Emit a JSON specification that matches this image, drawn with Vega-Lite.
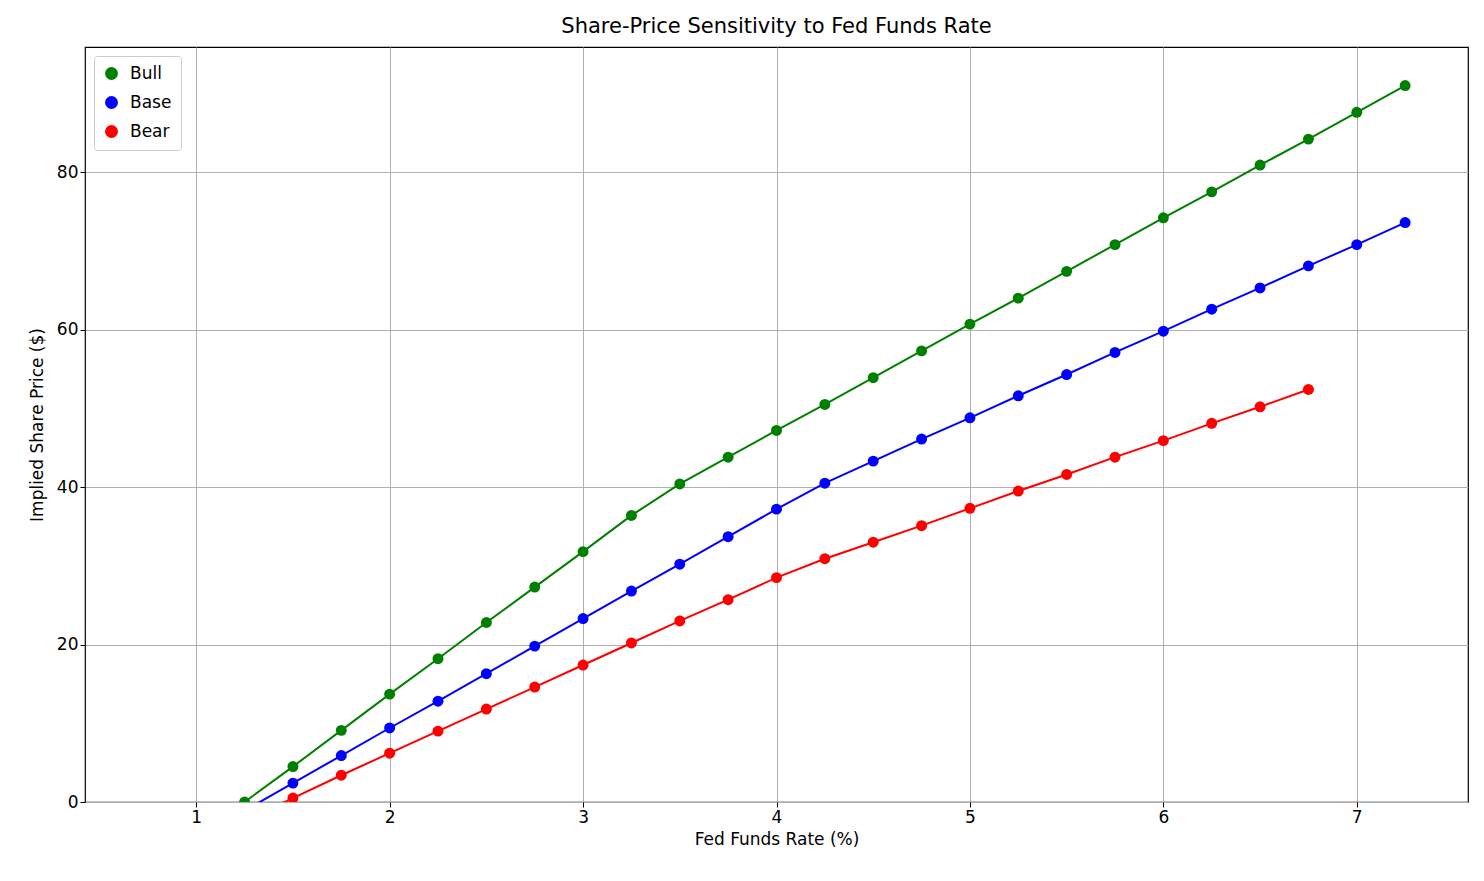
{
  "$schema": "https://vega.github.io/schema/vega-lite/v6.json",
  "autosize": "none",
  "width": 1383,
  "height": 755,
  "padding": {"left": 85, "top": 47, "right": 16, "bottom": 79},
  "background": "white",
  "title": {"text": "Share-Price Sensitivity to Fed Funds Rate", "fontSize": 21, "fontWeight": "normal", "font": "DejaVu Sans", "offset": 10},
  "config": {
    "font": "DejaVu Sans",
    "view": {"stroke": "black", "strokeWidth": 1.2},
    "axis": {"gridColor": "#b0b0b0", "gridOpacity": 1, "domain": false, "tickColor": "black", "tickSize": 5, "labelColor": "black", "labelFontSize": 17, "titleFontSize": 17, "titleFontWeight": "normal", "titleColor": "black", "labelFont": "DejaVu Sans", "titleFont": "DejaVu Sans"}
  },
  "data": {"values": [
    {"rate": 0.75, "s": "Bull", "p": -9}, {"rate": 1.0, "s": "Bull", "p": -4.5}, {"rate": 1.25, "s": "Bull", "p": 0},
    {"rate": 1.5, "s": "Bull", "p": 4.5}, {"rate": 1.75, "s": "Bull", "p": 9.1}, {"rate": 2, "s": "Bull", "p": 13.7},
    {"rate": 2.25, "s": "Bull", "p": 18.2}, {"rate": 2.5, "s": "Bull", "p": 22.8}, {"rate": 2.75, "s": "Bull", "p": 27.3},
    {"rate": 3, "s": "Bull", "p": 31.8}, {"rate": 3.25, "s": "Bull", "p": 36.4}, {"rate": 3.5, "s": "Bull", "p": 40.4},
    {"rate": 3.75, "s": "Bull", "p": 43.8}, {"rate": 4, "s": "Bull", "p": 47.2}, {"rate": 4.25, "s": "Bull", "p": 50.5},
    {"rate": 4.5, "s": "Bull", "p": 53.9}, {"rate": 4.75, "s": "Bull", "p": 57.3}, {"rate": 5, "s": "Bull", "p": 60.7},
    {"rate": 5.25, "s": "Bull", "p": 64.0}, {"rate": 5.5, "s": "Bull", "p": 67.4}, {"rate": 5.75, "s": "Bull", "p": 70.8},
    {"rate": 6, "s": "Bull", "p": 74.2}, {"rate": 6.25, "s": "Bull", "p": 77.5}, {"rate": 6.5, "s": "Bull", "p": 80.9},
    {"rate": 6.75, "s": "Bull", "p": 84.2}, {"rate": 7, "s": "Bull", "p": 87.6}, {"rate": 7.25, "s": "Bull", "p": 91.0},
    {"rate": 0.75, "s": "Base", "p": -8}, {"rate": 1.0, "s": "Base", "p": -4.6}, {"rate": 1.25, "s": "Base", "p": -1.1},
    {"rate": 1.5, "s": "Base", "p": 2.4}, {"rate": 1.75, "s": "Base", "p": 5.9}, {"rate": 2, "s": "Base", "p": 9.4},
    {"rate": 2.25, "s": "Base", "p": 12.8}, {"rate": 2.5, "s": "Base", "p": 16.3}, {"rate": 2.75, "s": "Base", "p": 19.8},
    {"rate": 3, "s": "Base", "p": 23.3}, {"rate": 3.25, "s": "Base", "p": 26.8}, {"rate": 3.5, "s": "Base", "p": 30.2},
    {"rate": 3.75, "s": "Base", "p": 33.7}, {"rate": 4, "s": "Base", "p": 37.2}, {"rate": 4.25, "s": "Base", "p": 40.5},
    {"rate": 4.5, "s": "Base", "p": 43.3}, {"rate": 4.75, "s": "Base", "p": 46.1}, {"rate": 5, "s": "Base", "p": 48.8},
    {"rate": 5.25, "s": "Base", "p": 51.6}, {"rate": 5.5, "s": "Base", "p": 54.3}, {"rate": 5.75, "s": "Base", "p": 57.1},
    {"rate": 6, "s": "Base", "p": 59.8}, {"rate": 6.25, "s": "Base", "p": 62.6}, {"rate": 6.5, "s": "Base", "p": 65.3},
    {"rate": 6.75, "s": "Base", "p": 68.1}, {"rate": 7, "s": "Base", "p": 70.8}, {"rate": 7.25, "s": "Base", "p": 73.6},
    {"rate": 0.75, "s": "Bear", "p": -8.5}, {"rate": 1.0, "s": "Bear", "p": -5.3}, {"rate": 1.25, "s": "Bear", "p": -2.4},
    {"rate": 1.5, "s": "Bear", "p": 0.5}, {"rate": 1.75, "s": "Bear", "p": 3.4}, {"rate": 2, "s": "Bear", "p": 6.2},
    {"rate": 2.25, "s": "Bear", "p": 9.0}, {"rate": 2.5, "s": "Bear", "p": 11.8}, {"rate": 2.75, "s": "Bear", "p": 14.6},
    {"rate": 3, "s": "Bear", "p": 17.4}, {"rate": 3.25, "s": "Bear", "p": 20.2}, {"rate": 3.5, "s": "Bear", "p": 23.0},
    {"rate": 3.75, "s": "Bear", "p": 25.7}, {"rate": 4, "s": "Bear", "p": 28.5}, {"rate": 4.25, "s": "Bear", "p": 30.9},
    {"rate": 4.5, "s": "Bear", "p": 33.0}, {"rate": 4.75, "s": "Bear", "p": 35.1}, {"rate": 5, "s": "Bear", "p": 37.3},
    {"rate": 5.25, "s": "Bear", "p": 39.5}, {"rate": 5.5, "s": "Bear", "p": 41.6}, {"rate": 5.75, "s": "Bear", "p": 43.8},
    {"rate": 6, "s": "Bear", "p": 45.9}, {"rate": 6.25, "s": "Bear", "p": 48.1}, {"rate": 6.5, "s": "Bear", "p": 50.2},
    {"rate": 6.75, "s": "Bear", "p": 52.4}
  ]},
  "encoding": {
    "x": {"field": "rate", "type": "quantitative", "title": "Fed Funds Rate (%)", "scale": {"domain": [0.425, 7.575], "nice": false, "zero": false}, "axis": {"values": [1, 2, 3, 4, 5, 6, 7], "titlePadding": 6}},
    "y": {"field": "p", "type": "quantitative", "title": "Implied Share Price ($)", "scale": {"domain": [0, 95.9], "nice": false}, "axis": {"values": [0, 20, 40, 60, 80], "titlePadding": 10}},
    "color": {"field": "s", "type": "nominal", "sort": ["Bull", "Base", "Bear"], "scale": {"domain": ["Bull", "Base", "Bear"], "range": ["green", "blue", "red"]},
      "legend": {"title": null, "orient": "top-left", "offset": 9, "labelFontSize": 17, "symbolType": "circle", "symbolSize": 130, "symbolOpacity": 1, "strokeColor": "#cccccc", "fillColor": "white", "padding": 9, "cornerRadius": 3, "rowPadding": 10, "labelOffset": 10}}
  },
  "layer": [
    {"mark": {"type": "line", "strokeWidth": 2, "clip": true}},
    {"mark": {"type": "point", "filled": true, "size": 120, "opacity": 1, "clip": true}}
  ]
}
